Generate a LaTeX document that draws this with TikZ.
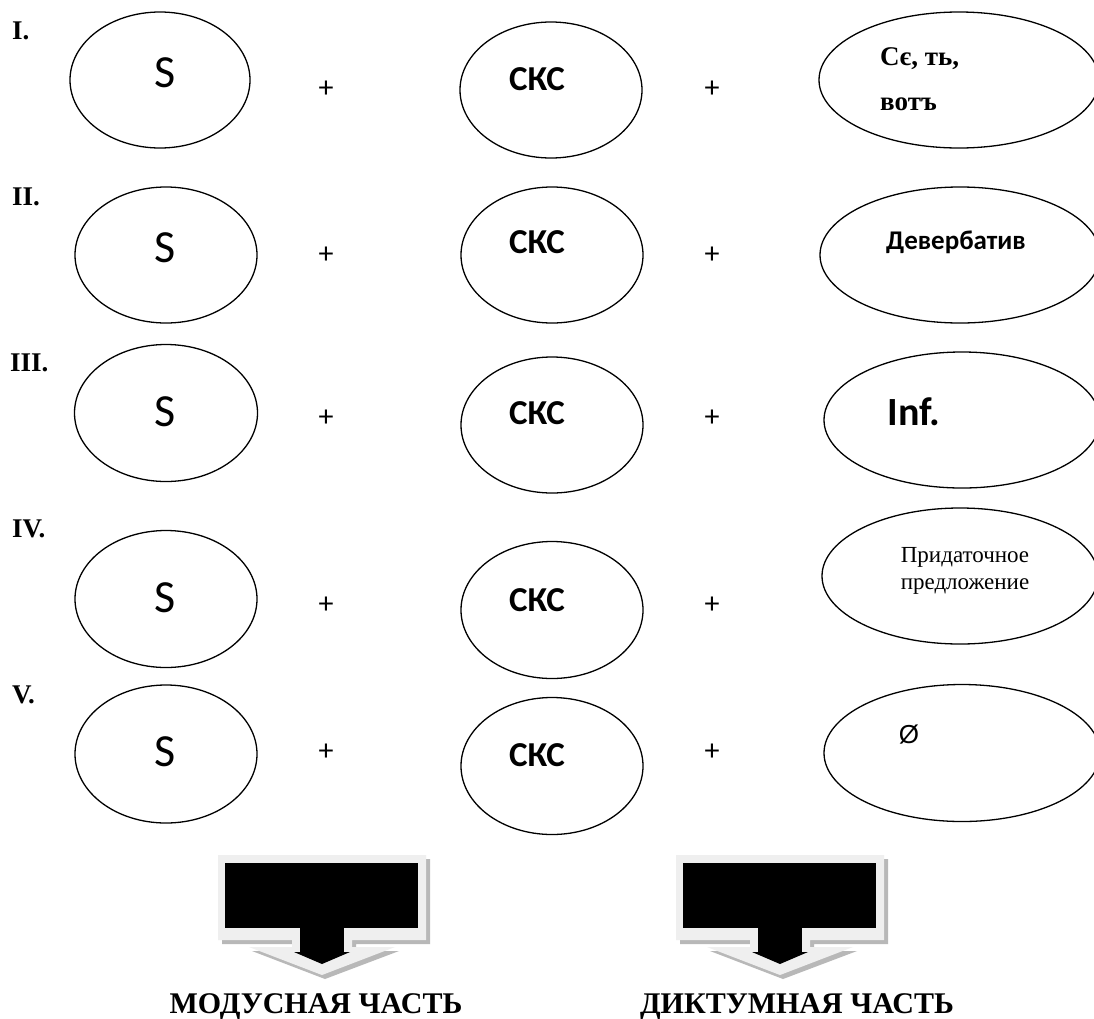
\documentclass[tikz,border=0pt]{standalone}
\usepackage{fontspec}
\setmainfont{Liberation Serif}
\newfontfamily\calib{Carlito}
\newfontfamily\arialf{Liberation Sans}
\usetikzlibrary{shapes.geometric}
\definecolor{framegray}{HTML}{EFEFEF}
\definecolor{shadegray}{HTML}{B8B8B8}
\tikzset{
  ell/.style={draw=black, line width=1.3pt, ellipse, inner sep=0pt},
  lbl/.style={anchor=west, inner sep=0pt, font=\fontsize{27}{30}\selectfont\bfseries},
  bigs/.style={inner sep=0pt, font=\calib\fontsize{46}{50}\selectfont},
  cks/.style={inner sep=0pt, font=\calib\fontsize{35}{40}\selectfont\bfseries},
  plus/.style={inner sep=0pt, font=\calib\fontsize{30}{34}\selectfont},
  foot/.style={anchor=base, inner sep=0pt, font=\fontsize{30}{34}\selectfont\bfseries},
}
\newcommand\myarrow[1]{%
  \begin{scope}[shift={(#1,0)}]
    \fill[shadegray] (-100,859) -- (108,859) -- (108,944) -- (34,944) -- (34,951) -- (77,951) -- (3,979) -- (-70,951) -- (-27,951) -- (-27,944) -- (-100,944) -- cycle;
    \fill[framegray] (-104,855) -- (104,855) -- (104,940) -- (30,940) -- (30,947) -- (73,947) -- (0,975) -- (-73,947) -- (-30,947) -- (-30,940) -- (-104,940) -- cycle;
    \fill[black] (-97,863) rectangle (96,928);
    \fill[black] (-22,926) rectangle (22,953);
    \fill[black] (-28,952) -- (28,952) -- (0,964) -- cycle;
  \end{scope}}
\begin{document}
\begin{tikzpicture}[x=1pt,y=-1pt]
\useasboundingbox (0,0) rectangle (1094,1018);
\fill[white] (0,0) rectangle (1094,1018);

% Row labels
\node[lbl] (l1) at (12,31) {I.};
\node[lbl] (l2) at (12,197) {II.};
\node[lbl] (l3) at (10,363) {III.};
\node[lbl] (l4) at (12,529) {IV.};
\node[lbl] (l5) at (12,695) {V.};

% Row I
\node[ell, minimum width=180pt, minimum height=136pt] (s1) at (160,80) {};
\node[ell, minimum width=182pt, minimum height=136pt] (k1) at (551,90) {};
\node[ell, minimum width=280pt, minimum height=136pt] (r1) at (959,80) {};
\node[bigs] (s1t) at (165,73) {S};
\node[cks] (k1t) at (537,79) {СКС};
\node[plus] (p1a) at (326,89) {+};
\node[plus] (p1b) at (712,89) {+};
\node[anchor=base west, inner sep=0pt, font=\fontsize{27}{30}\selectfont\bfseries] (r1a) at (880,65) {Сє, ть,};
\node[anchor=base west, inner sep=0pt, font=\fontsize{27}{30}\selectfont\bfseries] (r1b) at (880,110) {вотъ};

% Row II
\node[ell, minimum width=182pt, minimum height=136pt] (s2) at (166,255) {};
\node[ell, minimum width=182pt, minimum height=136pt] (k2) at (552,255) {};
\node[ell, minimum width=280pt, minimum height=136pt] (r2) at (960,255) {};
\node[bigs] (s2t) at (165,248) {S};
\node[cks] (k2t) at (537,242) {СКС};
\node[plus] (p2a) at (326,255) {+};
\node[plus] (p2b) at (712,255) {+};
\node[inner sep=0pt, font=\calib\fontsize{27}{30}\selectfont\bfseries] (r2t) at (956,242) {Девербатив};

% Row III
\node[ell, minimum width=183pt, minimum height=137pt] (s3) at (166,413) {};
\node[ell, minimum width=182pt, minimum height=136pt] (k3) at (552,425) {};
\node[ell, minimum width=276pt, minimum height=136pt] (r3) at (962,420) {};
\node[bigs] (s3t) at (165,412) {S};
\node[cks] (k3t) at (537,413) {СКС};
\node[plus] (p3a) at (326,418) {+};
\node[plus] (p3b) at (712,418) {+};
\node[inner sep=0pt, font=\calib\fontsize{40}{44}\selectfont\bfseries] (r3t) at (914,412) {Inf.};

% Row IV
\node[ell, minimum width=182pt, minimum height=137pt] (s4) at (166,599) {};
\node[ell, minimum width=182pt, minimum height=137pt] (k4) at (552,610) {};
\node[ell, minimum width=276pt, minimum height=136pt] (r4) at (960,576) {};
\node[bigs] (s4t) at (165,598) {S};
\node[cks] (k4t) at (537,600) {СКС};
\node[plus] (p4a) at (326,605) {+};
\node[plus] (p4b) at (712,605) {+};
\node[anchor=base, inner sep=0pt, font=\fontsize{23}{27}\selectfont] (r4a) at (965,562) {Придаточное};
\node[anchor=base, inner sep=0pt, font=\fontsize{23}{27}\selectfont] (r4b) at (965,589) {предложение};

% Row V
\node[ell, minimum width=182pt, minimum height=138pt] (s5) at (166,754) {};
\node[ell, minimum width=182pt, minimum height=137pt] (k5) at (552,766) {};
\node[ell, minimum width=276pt, minimum height=137pt] (r5) at (962,753) {};
\node[bigs] (s5t) at (165,752) {S};
\node[cks] (k5t) at (537,755) {СКС};
\node[plus] (p5a) at (326,752) {+};
\node[plus] (p5b) at (712,752) {+};
\node[inner sep=0pt, font=\arialf\fontsize{26}{30}\selectfont] (r5t) at (909,735) {Ø};

% Bottom arrows
\myarrow{322}
\myarrow{780}
\node[foot] (m) at (316,1013) {МОДУСНАЯ ЧАСТЬ};
\node[foot] (d) at (797,1013) {ДИКТУМНАЯ ЧАСТЬ};
\end{tikzpicture}
\end{document}
